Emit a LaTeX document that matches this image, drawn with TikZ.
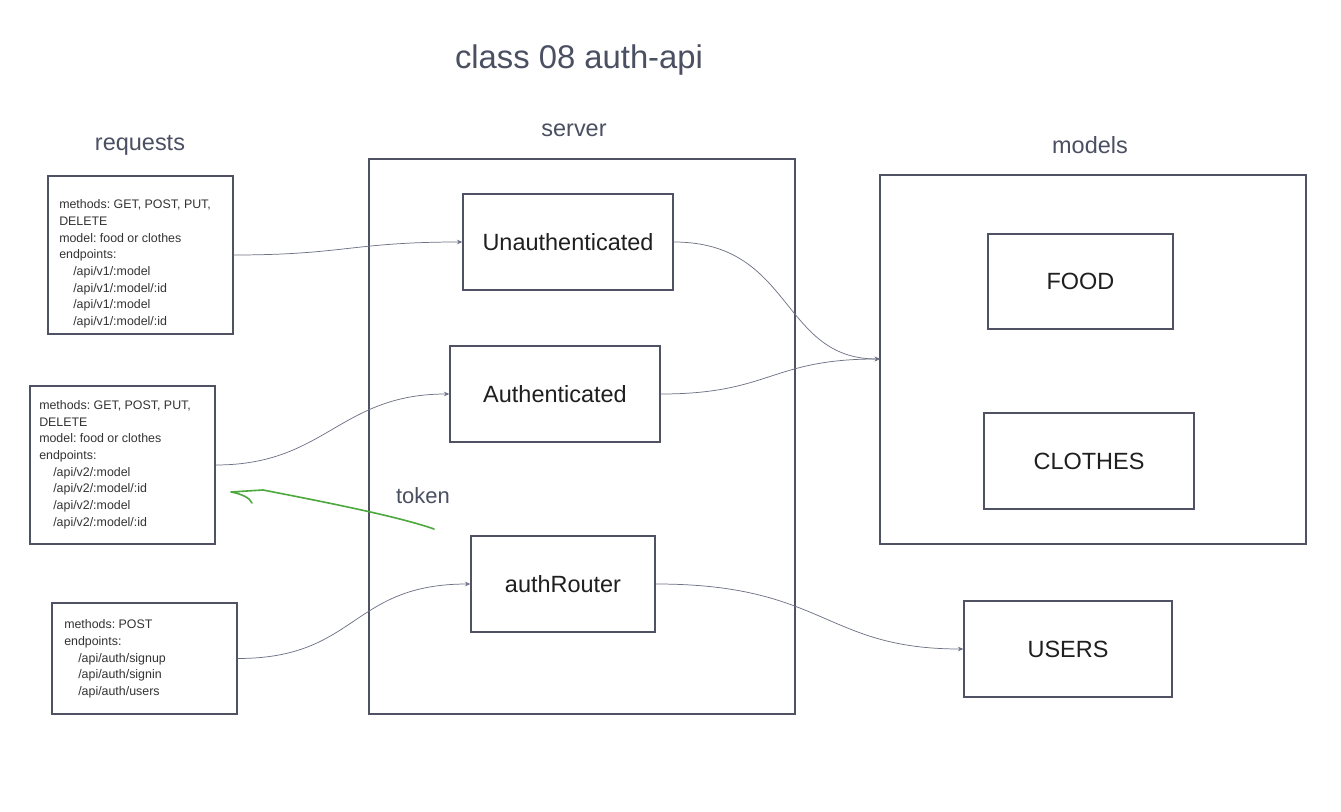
\documentclass[tikz,border=0pt]{standalone}
\usepackage{fontspec}
\setmainfont{Liberation Sans}
\usetikzlibrary{arrows.meta}
\definecolor{ink}{HTML}{4A5062}
\definecolor{boxline}{HTML}{4F5263}
\definecolor{wire}{HTML}{6E7285}
\definecolor{tok}{HTML}{4DA83E}
\tikzset{
  box/.style={draw=boxline, line width=1.1pt, fill=white, inner sep=0pt},
  lbl/.style={text=black!88, font=\fontsize{17.6}{20}\selectfont},
  head/.style={text=ink, font=\fontsize{17.6}{20}\selectfont},
  reqtext/.style={anchor=west, align=left, text=black!80, inner sep=0pt, font=\fontsize{9.3}{12.5}\selectfont},
  wireline/.style={draw=wire, line width=0.55pt, -{Stealth[length=4pt,width=3.4pt]}},
}
\newcommand{\ind}{\hspace*{10.5pt}}
\begin{document}
\frenchspacing
\begin{tikzpicture}[x=0.75pt,y=-0.75pt]
\useasboundingbox (0,0) rectangle (1341,812);
\fill[white] (0,0) rectangle (1341,812);

% title and headings
\node[text=ink, font=\fontsize{24.6}{28}\selectfont] (title) at (579,60.5) {class 08 auth-api};
\node[head] (hreq) at (140,145) {requests};
\node[head] (hsrv) at (574,130) {server};
\node[head] (hmod) at (1090,145) {models};

% containers
\node[box, minimum width=319.5pt, minimum height=416.25pt] (server) at (582,436.5) {};
\node[box, minimum width=319.5pt, minimum height=276.75pt] (models) at (1093,359.5) {};

% server boxes
\node[box, lbl, minimum width=157.5pt, minimum height=72pt] (unauth) at (568,242) {Unauthenticated};
\node[box, lbl, minimum width=157.5pt, minimum height=72pt] (auth) at (555,394) {Authenticated};
\node[box, lbl, minimum width=138pt, minimum height=72pt] (router) at (563,584) {authRouter};

% model boxes
\node[box, lbl, minimum width=138.75pt, minimum height=71.25pt] (food) at (1080.5,281.5) {FOOD};
\node[box, lbl, minimum width=157.5pt, minimum height=72pt] (clothes) at (1089,461) {CLOTHES};
\node[box, lbl, minimum width=156pt, minimum height=72pt] (users) at (1068,649) {USERS};

% request boxes
\node[box, minimum width=138.75pt, minimum height=118.5pt] (req1) at (140.5,255) {};
\node[box, minimum width=138.75pt, minimum height=118.5pt] (req2) at (122.5,465) {};
\node[box, minimum width=138.75pt, minimum height=83.25pt] (req3) at (144.5,658.5) {};

\node[reqtext] (t1) at (59,264) {methods: GET, POST, PUT,\\DELETE\\model: food or clothes\\endpoints:\\
\ind/api/v1/:model\\\ind/api/v1/:model/:id\\\ind/api/v1/:model\\\ind/api/v1/:model/:id};
\node[reqtext] (t2) at (39,464.5) {methods: GET, POST, PUT,\\DELETE\\model: food or clothes\\endpoints:\\
\ind/api/v2/:model\\\ind/api/v2/:model/:id\\\ind/api/v2/:model\\\ind/api/v2/:model/:id};
\node[reqtext] (t3) at (64,659) {methods: POST\\endpoints:\\\ind/api/auth/signup\\\ind/api/auth/signin\\\ind/api/auth/users};

% connectors
\draw[wireline] (req1.east) .. controls +(110,0) and +(-110,0) .. (unauth.west);
\draw[wireline] (req2.east) .. controls +(110,0) and +(-110,0) .. (auth.west);
\draw[wireline] (req3.east) .. controls +(120,0) and +(-120,0) .. (router.west);
\coordinate (min) at (880,359);
\draw[wireline] (unauth.east) .. controls +(120,0) and +(-100,0) .. (min);
\draw[wireline] (auth.east) .. controls +(110,0) and +(-110,0) .. (min);
\draw[wireline] (router.east) .. controls +(170,0) and +(-140,0) .. (users.west);

% token arrow
\node[text=ink, font=\fontsize{16.5}{19}\selectfont] (token) at (423,496) {token};
\coordinate (tstart) at (434,529);
\coordinate (ttip) at (231,492);
\draw[tok, line width=1.2pt, line cap=round, line join=round]
  (tstart) .. controls (400,517) and (330,503) .. (263,490) -- (ttip)
  .. controls (242,494) and (250,498) .. (252,503);
\end{tikzpicture}
\end{document}
